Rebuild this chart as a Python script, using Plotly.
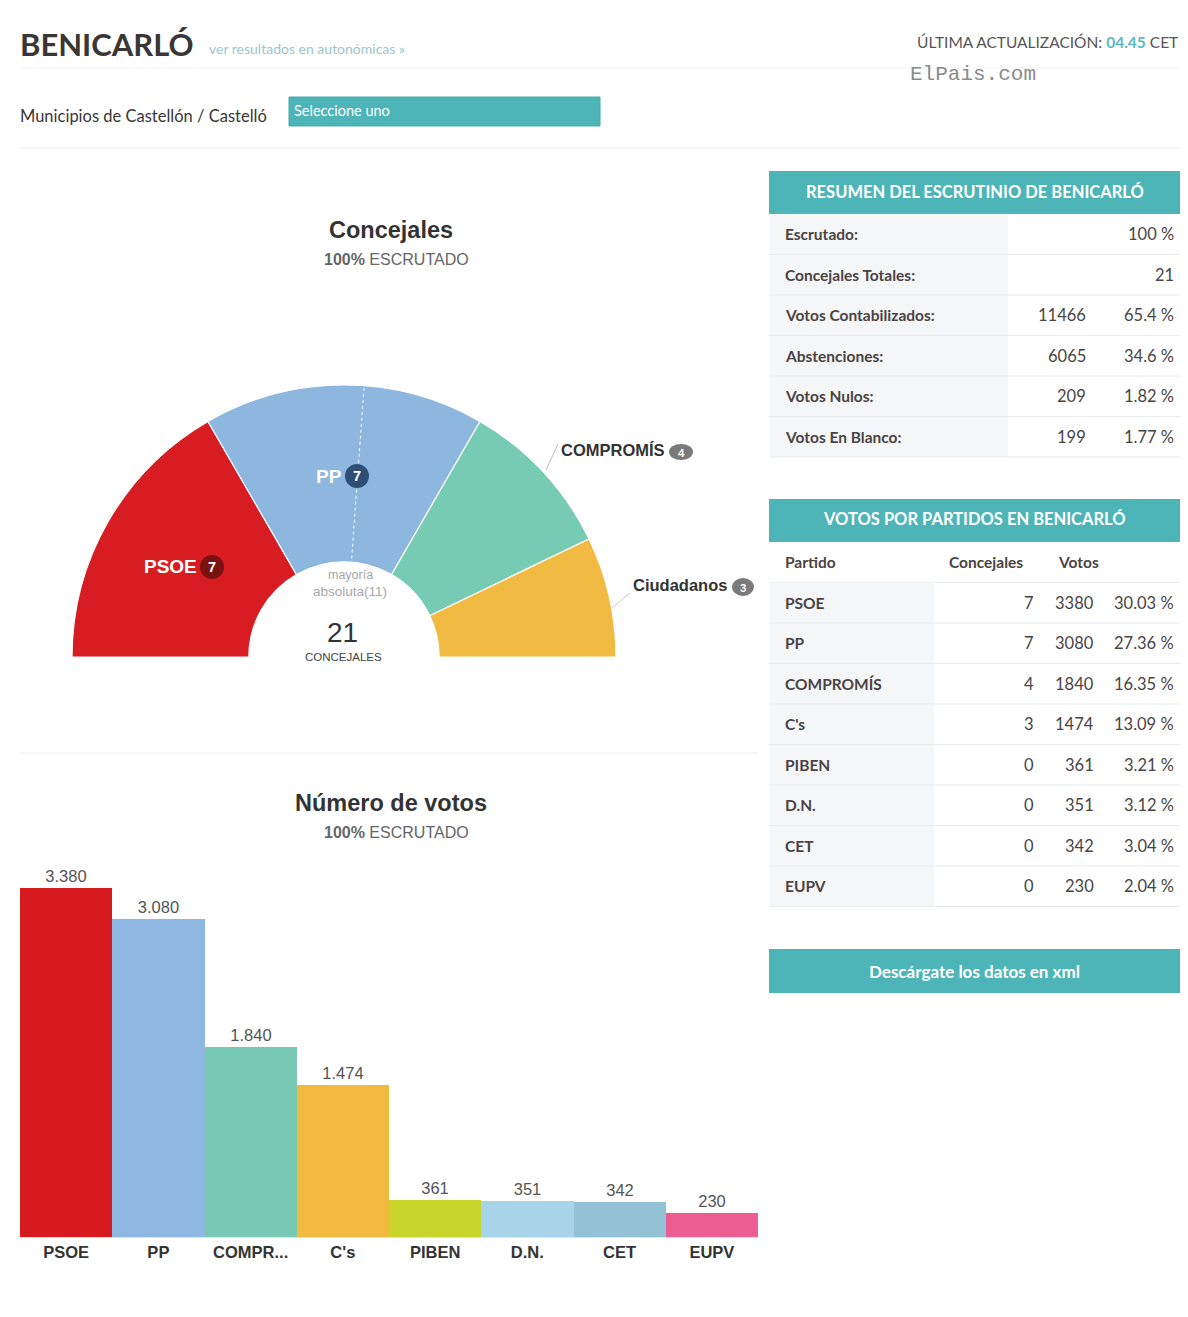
import plotly.graph_objects as go

# page has an 8px body margin: figure is offset by 8px
OFF = 8
FW, FH = 1172, 1300

def X(px):
    return (px - OFF) / FW

def Y(py):
    return 1 - (py - OFF) / FH

# ---------------- DATA ----------------
seat_parties = ["PSOE", "PP", "COMPROMÍS", "Ciudadanos"]
seats = [7, 7, 4, 3]
seat_colors = ["#D71D22", "#8EB7E0", "#78CBB3", "#F0BA43"]
total_seats = 21
majority = 11

bar_labels = ["PSOE", "PP", "COMPR...", "C's", "PIBEN", "D.N.", "CET", "EUPV"]
votes = [3380, 3080, 1840, 1474, 361, 351, 342, 230]
bar_colors = ["#D71920", "#8EB8E1", "#77C9B3", "#F1B940", "#C8D52B", "#A8D4EA", "#93C1D5", "#EC5E92"]

table_parties = ["PSOE", "PP", "COMPROMÍS", "C's", "PIBEN", "D.N.", "CET", "EUPV"]
table_seats = [7, 7, 4, 3, 0, 0, 0, 0]
table_pcts = ["30.03 %", "27.36 %", "16.35 %", "13.09 %", "3.21 %", "3.12 %", "3.04 %", "2.04 %"]

summary_labels = ["Escrutado:", "Concejales Totales:", "Votos Contabilizados:", "Abstenciones:", "Votos Nulos:", "Votos En Blanco:"]
summary_counts = ["", "", "11466", "6065", "209", "199"]
summary_values = ["100 %", "21", "65.4 %", "34.6 %", "1.82 %", "1.77 %"]

TEAL = "#4DB5B7"
DARK = "#3d3d3d"
LABEL = "#4b4343"
NUM = "#4a4444"
SANS = "Liberation Sans, Arial, sans-serif"
LATO = "Lato, sans-serif"

fig = go.Figure()

# ---------------- Hemicycle (pie with invisible lower half) ----------------
fig.add_trace(go.Pie(
    labels=seat_parties + [""],
    values=seats + [total_seats],
    marker=dict(colors=seat_colors + ["rgba(0,0,0,0)"],
                line=dict(color=["white"] * 4 + ["rgba(0,0,0,0)"], width=1.2)),
    hole=0.35,
    sort=False,
    direction="clockwise",
    rotation=270,
    textinfo="none",
    hoverinfo="skip",
    domain=dict(x=[X(72), X(616)], y=[Y(929), Y(385)]),
    showlegend=False,
))

# ---------------- Bar chart ----------------
fig.add_trace(go.Bar(
    x=bar_labels,
    y=votes,
    marker=dict(color=bar_colors, line=dict(width=0)),
    text=[f"{v:,}".replace(",", ".") for v in votes],
    textposition="outside",
    textfont=dict(family=SANS, size=16.5, color="#555"),
    cliponaxis=False,
    hoverinfo="skip",
    xaxis="x", yaxis="y",
))

shapes = []
ann = []

def text(px, py, s, size, color=DARK, family=LATO, xanchor="left", weight="normal", yanchor="middle"):
    ann.append(dict(x=X(px), y=Y(py), xref="paper", yref="paper", text=s, showarrow=False,
                    xanchor=xanchor, yanchor=yanchor, borderpad=0,
                    font=dict(family=family, size=size, color=color, weight=weight)))

def rect(x0, y0, x1, y1, fill, line=None):
    shapes.append(dict(type="rect", xref="paper", yref="paper", x0=X(x0), x1=X(x1), y0=Y(y1), y1=Y(y0),
                       fillcolor=fill, line=dict(width=0) if line is None else line, layer="below"))

def hline(x0, x1, y, color="#EBEBEB", width=1, dash="solid", layer="below"):
    shapes.append(dict(type="line", xref="paper", yref="paper", x0=X(x0), x1=X(x1), y0=Y(y), y1=Y(y),
                       line=dict(color=color, width=width, dash=dash), layer=layer))

def circle(cx, cy, r, fill, rx=None):
    rx = r if rx is None else rx
    shapes.append(dict(type="circle", xref="paper", yref="paper", x0=X(cx - rx), x1=X(cx + rx),
                       y0=Y(cy + r), y1=Y(cy - r), fillcolor=fill, line=dict(width=0), layer="above"))

RIGHT = 1180  # visible right edge

# ---------------- Header ----------------
text(19, 44, "<b>BENICARLÓ</b>", 31, color="#3a3636")
text(208, 49, "ver resultados en autonómicas »", 14, color="#9cc6cc")
text(RIGHT - 1, 42, "ÚLTIMA ACTUALIZACIÓN: <b><span style='color:#5BB8C4'>04.45</span></b> CET", 15.5,
     color="#555", xanchor="right")
text(909, 74, "ElPais.com", 21, color="#8a8a8a", family="Liberation Mono, Courier New, monospace")
hline(20, RIGHT, 68, color="#F3F3F3")
text(19, 116, "Municipios de Castellón / Castelló", 16.5, color="#3a3636")
shapes.append(dict(type="rect", xref="paper", yref="paper", x0=X(289), x1=X(600), y0=Y(126), y1=Y(97),
                   fillcolor=TEAL, line=dict(color="#48ABAD", width=1), layer="below"))
text(293, 111, "Seleccione uno", 14.5, color="white")
hline(20, RIGHT, 148, color="#F0F0F0")

# ---------------- Hemicycle texts ----------------
text(391, 230, "<b>Concejales</b>", 23.5, color="#333", family=SANS, xanchor="center")
text(396, 260, "<b>100%</b> ESCRUTADO", 16, color="#666", family=SANS, xanchor="center")

# majority dashed line
shapes.append(dict(type="line", xref="paper", yref="paper", x0=X(364), y0=Y(388), x1=X(351), y1=Y(568),
                   line=dict(color="white", width=1, dash="dot"), layer="above"))

text(350, 575, "mayoría", 12.5, color="#a8a8a8", family=SANS, xanchor="center")
text(350, 591, "absoluta(" + str(majority) + ")", 13.5, color="#a8a8a8", family=SANS, xanchor="center")
text(342, 632, str(total_seats), 28, color="#333", family=SANS, xanchor="center")
text(343, 657, "CONCEJALES", 11.5, color="#444", family=SANS, xanchor="center")

# slice labels
text(170, 567, "<b>" + seat_parties[0] + "</b>", 19, color="white", family=SANS, xanchor="center")
circle(212, 567, 12, "#7A1212")
text(212, 567, "<b>" + str(seats[0]) + "</b>", 14.5, color="white", family=SANS, xanchor="center")

text(329, 476, "<b>" + seat_parties[1] + "</b>", 19, color="white", family=SANS, xanchor="center")
circle(357, 476, 12, "#2E4E76")
text(357, 476, "<b>" + str(seats[1]) + "</b>", 14.5, color="white", family=SANS, xanchor="center")

shapes.append(dict(type="line", xref="paper", yref="paper", x0=X(546), y0=Y(470), x1=X(558), y1=Y(444),
                   line=dict(color="#bbb", width=1), layer="above"))
text(613, 450, "<b>" + seat_parties[2] + "</b>", 16.5, color="#333", family=SANS, xanchor="center")
circle(681, 452, 8, "#7a7a7a", rx=12)
text(681, 453, "<b>" + str(seats[2]) + "</b>", 11.5, color="white", family=SANS, xanchor="center")

shapes.append(dict(type="line", xref="paper", yref="paper", x0=X(612), y0=Y(608), x1=X(630), y1=Y(593),
                   line=dict(color="#ccc", width=1), layer="above"))
text(680, 585, "<b>" + seat_parties[3] + "</b>", 16.5, color="#333", family=SANS, xanchor="center")
circle(743, 587, 9, "#7a7a7a", rx=11)
text(743, 588, "<b>" + str(seats[3]) + "</b>", 11.5, color="white", family=SANS, xanchor="center")

hline(20, 758, 753, color="#EFEFEF")

# ---------------- Bar chart titles ----------------
text(391, 803, "<b>Número de votos</b>", 23.5, color="#333", family=SANS, xanchor="center")
text(396, 832, "<b>100%</b> ESCRUTADO", 16, color="#666", family=SANS, xanchor="center")

# ---------------- Summary table ----------------
TX0, TX1 = 769, RIGHT
TC = (TX0 + TX1) / 2
rect(TX0, 171, TX1, 214, TEAL)
text(TC, 192, "<b>RESUMEN DEL ESCRUTINIO DE BENICARLÓ</b>", 16.5, color="white", xanchor="center")
row_h = 40.5
top = 214
rect(TX0 + 1, top, 1008, top + row_h * len(summary_labels), "#F4F6F8")
for i, lab in enumerate(summary_labels):
    cy = top + row_h * (i + 0.5)
    text(784, cy, lab, 15.5, color=LABEL, weight=700)
    if summary_counts[i]:
        text(1087, cy, summary_counts[i], 16.5, color=NUM, xanchor="right")
    text(1175, cy, summary_values[i], 16.5, color=NUM, xanchor="right")
    hline(TX0, TX1, top + row_h * (i + 1), color="#E9ECEE")

# ---------------- Party table ----------------
rect(TX0, 499, TX1, 542, TEAL)
text(TC, 519, "<b>VOTOS POR PARTIDOS EN BENICARLÓ</b>", 16.5, color="white", xanchor="center")
ptop = 542
text(784, ptop + row_h * 0.5, "Partido", 15.5, color=LABEL, weight=700)
text(948, ptop + row_h * 0.5, "Concejales", 15.5, color=LABEL, weight=700)
text(1057, ptop + row_h * 0.5, "Votos", 15.5, color=LABEL, weight=700)
hline(TX0, TX1, ptop + row_h, color="#E9ECEE")
rtop = ptop + row_h
rect(TX0 + 1, rtop, 934, rtop + row_h * len(table_parties), "#F4F6F8")
for i, p in enumerate(table_parties):
    cy = rtop + row_h * (i + 0.5)
    text(784, cy, p, 15.5, color=LABEL, weight=700)
    text(1035, cy, str(table_seats[i]), 16.5, color=NUM, xanchor="right")
    text(1095, cy, str(votes[i]), 16.5, color=NUM, xanchor="right")
    text(1175, cy, table_pcts[i], 16.5, color=NUM, xanchor="right")
    hline(TX0, TX1, rtop + row_h * (i + 1), color="#E9ECEE")

# ---------------- Download button ----------------
rect(TX0, 949, TX1, 993, TEAL)
text(TC, 971, "<b>Descárgate los datos en xml</b>", 17, color="white", xanchor="center")

fig.update_layout(
    width=FW, height=FH,
    margin=dict(l=0, r=0, t=0, b=0),
    paper_bgcolor="white", plot_bgcolor="rgba(0,0,0,0)",
    showlegend=False,
    bargap=0,
    xaxis=dict(domain=[X(20), X(758)], anchor="y", showline=True, linecolor="#e3e3e3", linewidth=1,
               ticks="", showgrid=False, zeroline=False, fixedrange=True,
               tickfont=dict(family=SANS, size=16.5, color="#333", weight="bold")),
    yaxis=dict(domain=[Y(1237), Y(860)], anchor="x", range=[0, 3650], visible=False,
               showgrid=False, zeroline=False, fixedrange=True),
    shapes=shapes,
    annotations=ann,
)

fig.write_html("out.html", default_width=f"{FW}px", default_height=f"{FH}px")
